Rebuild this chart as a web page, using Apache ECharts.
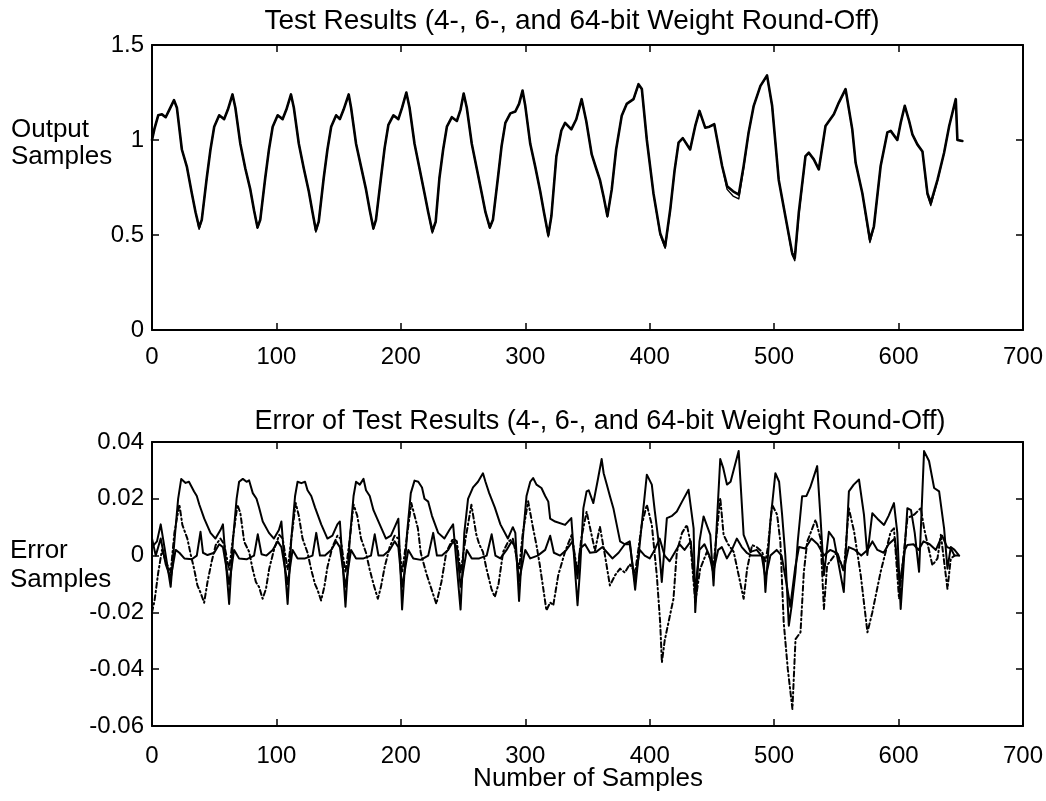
<!DOCTYPE html>
<html>
<head>
<meta charset="utf-8">
<script src="https://cdn.jsdelivr.net/npm/echarts@6/dist/echarts.min.js"></script>
<style>
  html, body { margin: 0; padding: 0; background: #fff; }
  #chart { width: 1046px; height: 801px; }
</style>
</head>
<body>
<div id="chart"></div>
<script>
// output samples, [sample, value]
var out64 = [[0,1.00],[2,1.06],[5,1.13],[8,1.135],[11,1.12],[14,1.16],[17.7,1.21],[20,1.17],[24,0.95],[28,0.86],[32,0.72],[35,0.62],[37.9,0.54],
  [40,0.58],[44,0.80],[47,0.95],[50,1.07],[54,1.13],[58,1.11],[61,1.16],[64.7,1.24],[67,1.17],[71,0.98],[75,0.85],[79,0.74],[82,0.63],[84.8,0.54],
  [87,0.58],[91,0.80],[94,0.95],[97,1.07],[101,1.13],[105,1.11],[108,1.16],[111.7,1.24],[114,1.17],[118,0.98],[122,0.85],[126,0.73],[129,0.62],[131.7,0.525],
  [134,0.57],[138,0.80],[141,0.95],[144,1.07],[148,1.13],[151,1.11],[154,1.16],[158.1,1.24],[160,1.17],[164,0.98],[168,0.86],[172,0.74],[175,0.63],[177.9,0.535],
  [180,0.58],[184,0.80],[187,0.96],[190,1.08],[194,1.13],[198,1.11],[201,1.17],[204.4,1.25],[207,1.17],[211,0.98],[215,0.85],[219,0.72],[222,0.62],[225.3,0.52],
  [228,0.57],[231,0.80],[234,0.95],[237,1.07],[241,1.12],[245,1.10],[248,1.16],[250.5,1.245],[253,1.17],[257,0.98],[261,0.85],[265,0.72],[268,0.62],[271.5,0.54],
  [274,0.58],[278,0.80],[281,0.97],[284,1.09],[288,1.14],[292,1.15],[295,1.19],[297.8,1.26],[300,1.18],[304,0.98],[308,0.86],[312,0.73],[315,0.62],[318.5,0.50],
  [321,0.60],[325,0.915],[329,1.05],[332,1.09],[337,1.056],[341,1.109],[345.3,1.215],[349,1.10],[353.4,0.924],[357,0.85],[360,0.79],[363,0.70],[366,0.60],
  [369.5,0.74],[373,0.95],[377.5,1.127],[381.5,1.19],[387,1.215],[391,1.294],[393.7,1.268],[397.7,1.00],[403,0.72],[408.4,0.51],[412.4,0.44],
  [416.5,0.634],[420,0.84],[423.2,0.986],[426.6,1.01],[432.5,0.95],[436.6,1.074],[440,1.153],[444.6,1.065],[448,1.07],[451.9,1.083],[458.2,0.863],[462.2,0.757],
  [467,0.73],[471.6,0.713],[475.5,0.863],[479.5,1.04],[483.6,1.18],[489,1.285],[494.3,1.34],[498.4,1.18],[503.7,0.79],[509,0.60],[514.5,0.405],[516.6,0.38],
  [519.8,0.617],[525.2,0.915],[527.9,0.933],[531.9,0.898],[535.9,0.845],[541.3,1.074],[548,1.136],[552,1.197],[557.4,1.268],[562.8,1.056],[565.5,0.88],[570.9,0.72],[577,0.475],
  [580.2,0.546],[585.6,0.863],[591,1.04],[593.7,1.048],[599,1.0],[601.7,1.09],[605,1.18],[608.5,1.1],[611.1,1.03],[615.1,0.977],[619.2,0.94],[623.2,0.72],[625.9,0.669],
  [631.3,0.79],[636.6,0.933],[640.7,1.074],[646,1.215],[647.3,1.0],[651.3,0.995]];

var out4 = [[0,1.00],[2,1.06],[5,1.13],[8,1.135],[11,1.12],[14,1.16],[17.7,1.21],[20,1.17],[24,0.95],[28,0.86],[32,0.72],[35,0.62],[37.9,0.53],
  [40,0.58],[44,0.80],[47,0.95],[50,1.07],[54,1.13],[58,1.11],[61,1.16],[64.7,1.24],[67,1.17],[71,0.98],[75,0.85],[79,0.74],[82,0.63],[84.8,0.535],
  [87,0.58],[91,0.80],[94,0.95],[97,1.07],[101,1.13],[105,1.11],[108,1.16],[111.7,1.24],[114,1.17],[118,0.98],[122,0.85],[126,0.73],[129,0.62],[131.7,0.515],
  [134,0.57],[138,0.80],[141,0.95],[144,1.07],[148,1.13],[151,1.11],[154,1.16],[158.1,1.24],[160,1.17],[164,0.98],[168,0.86],[172,0.74],[175,0.63],[177.9,0.53],
  [180,0.58],[184,0.80],[187,0.96],[190,1.08],[194,1.13],[198,1.11],[201,1.17],[204.4,1.25],[207,1.17],[211,0.98],[215,0.85],[219,0.72],[222,0.62],[225.3,0.51],
  [228,0.57],[231,0.80],[234,0.95],[237,1.07],[241,1.12],[245,1.10],[248,1.16],[250.5,1.245],[253,1.17],[257,0.98],[261,0.85],[265,0.72],[268,0.62],[271.5,0.535],
  [274,0.58],[278,0.80],[281,0.97],[284,1.09],[288,1.14],[292,1.15],[295,1.19],[297.8,1.26],[300,1.18],[304,0.98],[308,0.86],[312,0.73],[315,0.62],[318.5,0.49],
  [321,0.60],[325,0.915],[329,1.05],[332,1.09],[337,1.056],[341,1.109],[345.3,1.215],[349,1.10],[353.4,0.924],[357,0.85],[360,0.79],[363,0.70],[366,0.595],
  [369.5,0.74],[373,0.95],[377.5,1.127],[381.5,1.19],[387,1.215],[391,1.29],[393.7,1.265],[397.7,1.00],[403,0.72],[408.4,0.50],[412.4,0.43],
  [416.5,0.63],[420,0.84],[423.2,0.986],[426.6,1.01],[432.5,0.95],[436.6,1.074],[440,1.153],[444.6,1.065],[448,1.07],[451.9,1.083],[458.2,0.863],[462.2,0.74],
  [467,0.705],[471.6,0.69],[475.5,0.85],[479.5,1.04],[483.6,1.18],[489,1.285],[494.3,1.335],[498.4,1.18],[503.7,0.79],[509,0.60],[514.5,0.395],[516.6,0.365],
  [519.8,0.60],[525.2,0.915],[527.9,0.933],[531.9,0.898],[535.9,0.845],[541.3,1.074],[548,1.136],[552,1.197],[557.4,1.268],[562.8,1.056],[565.5,0.88],[570.9,0.72],[577,0.46],
  [580.2,0.54],[585.6,0.863],[591,1.04],[593.7,1.048],[599,1.0],[601.7,1.09],[605,1.18],[608.5,1.1],[611.1,1.03],[615.1,0.977],[619.2,0.94],[623.2,0.71],[625.9,0.655],
  [631.3,0.785],[636.6,0.933],[640.7,1.074],[646,1.215],[647.3,1.0],[651.3,0.995]];

// errors, lower plot: large solid, dash-dot, small solid
var errSolid = [[0,0.003],[4,0.005],[7,0.011],[10,0.003],[15,-0.011],[18,0.005],[21,0.020],[23.5,0.027],[27,0.0256],[29.7,0.026],[33.8,0.0226],[36,0.021],[38,0.018],
  [42,0.013],[47,0.008],[51,0.006],[55,0.009],[57,0.011],[62,-0.017],[65,0.005],[68,0.020],[70,0.026],[73,0.027],[76,0.026],[78,0.0265],[81,0.022],[84,0.020],[86,0.017],
  [89,0.012],[94,0.008],[98,0.006],[102,0.009],[104,0.012],[109,-0.017],[112,0.006],[115,0.021],[117,0.026],[120,0.0255],[123,0.026],[125,0.023],[128,0.021],[131,0.017],
  [136,0.011],[141,0.006],[145,0.007],[149,0.011],[151,0.012],[155.5,-0.018],[159,0.006],[162,0.021],[164,0.026],[167,0.025],[170,0.027],[172,0.023],[175,0.021],[178,0.016],
  [183,0.011],[188,0.006],[192,0.007],[196,0.011],[198,0.013],[201,-0.019],[205,0.008],[208,0.022],[211,0.0264],[214,0.026],[217,0.024],[219,0.020],[222,0.019],[225,0.014],
  [230,0.008],[235,0.006],[239,0.009],[242,0.011],[248,-0.019],[251,0.008],[254,0.020],[258,0.024],[262,0.026],[266,0.029],[268,0.026],[271,0.022],[275.5,0.017],
  [280,0.011],[286,0.006],[290,0.010],[292,0.008],[295,-0.016],[298,0.006],[301,0.021],[304,0.026],[306.3,0.0273],[309,0.025],[313,0.0238],[316,0.021],[318.5,0.019],
  [320,0.013],[324,0.012],[332,0.0108],[337,0.0132],[342,-0.0175],[344,-0.005],[346.7,0.0167],[349.3,0.0226],[351,0.023],[354.7,0.0185],[358,0.026],[361.4,0.034],
  [363,0.029],[365.5,0.025],[368,0.021],[370.8,0.0167],[376.2,0.005],[380,0.004],[384,0.005],[388.3,-0.012],[393.6,0.011],[397.7,0.0285],[401.7,0.025],[404,0.016],
  [407.1,0.005],[409.7,-0.0093],[413.8,0.0132],[418,0.014],[421.8,0.0155],[426,0.019],[431.2,0.0232],[435.3,0.0096],[436.6,-0.0199],[440,0.005],[443.3,0.0138],
  [448.7,0.0073],[451.3,-0.0105],[456.7,0.034],[459,0.031],[462.1,0.025],[465,0.026],[468,0.031],[471.5,0.0368],[475.5,0.0073],[480.9,0.0013],[486,0.002],[491.6,-0.001],
  [493,-0.0128],[497,0.012],[501,0.029],[502.4,0.0297],[504,0.026],[506.4,0.0144],[509,0.0],[511.8,-0.0247],[514,-0.018],[517.2,-0.0057],[519,0.005],[522.5,0.0209],
  [526,0.021],[529,0.024],[532,0.028],[534.6,0.0315],[537.3,0.0132],[540,-0.0069],[544,0.0084],[548,0.006],[552,-0.0034],[556,-0.0128],[560.1,0.0226],[564,0.025],
  [568.2,0.0268],[572.2,0.0144],[574.9,0.0002],[578.9,0.0149],[583,0.013],[588.3,0.0108],[592,0.014],[596.3,0.0185],[599,0.008],[601.7,-0.0188],[607.1,0.0167],
  [610,0.016],[613,0.008],[616.5,-0.0057],[620.5,0.0368],[624.5,0.0333],[628.6,0.0238],[632.6,0.0226],[636.6,0.0096],[639.3,-0.0046],[642,0.003],[645,0.002],[648.7,0.0]];

var errDashDot = [[0,-0.020],[2,-0.016],[5,-0.006],[8,0.002],[11,-0.002],[15,-0.006],[18,0.008],[22,0.018],[24.4,0.0108],[28.4,0.006],[31.2,0.0002],[33.8,-0.0046],
  [36.5,-0.0105],[39,-0.013],[41.9,-0.0166],[44.6,-0.0093],[48,-0.002],[51.2,0.0037],[55,0.006],[58,0.004],[62,-0.005],[65,0.006],[68.7,0.0179],[71,0.015],[74.1,0.0049],
  [78.1,0.0013],[80.8,-0.0046],[83.5,-0.0093],[86,-0.011],[88.9,-0.0152],[91.6,-0.0117],[94.2,-0.0046],[98.3,0.0025],[102.3,0.0073],[105,0.006],[109,-0.005],[112,0.006],
  [115.5,0.0185],[118,0.014],[121,0.006],[125,0.001],[128,-0.005],[131,-0.010],[133,-0.012],[135.9,-0.0158],[138.5,-0.011],[141,-0.004],[145,0.003],[149,0.007],
  [151.5,0.006],[155.5,-0.006],[159,0.006],[162,0.018],[165,0.014],[168,0.006],[172,0.001],[175,-0.005],[178,-0.010],[181.5,-0.0152],[184,-0.011],[187,-0.004],[191,0.003],
  [195,0.007],[198,0.006],[201,-0.006],[205,0.007],[208.4,0.0185],[213.7,0.0096],[216,0.001],[220.5,-0.0063],[224,-0.011],[228.5,-0.017],[232.6,-0.0093],[236.6,0.0013],
  [241.9,0.006],[245,0.005],[248,-0.006],[252,0.006],[256.7,0.0179],[260.7,0.0073],[263,0.004],[266,0.0013],[268.8,-0.0046],[272.8,-0.0117],[275.5,-0.0146],[278.5,-0.010],
  [282.2,0.0013],[286.2,0.0049],[290,0.006],[295,-0.005],[298,0.008],[302.3,0.0191],[306.3,0.0096],[309,0.0037],[311.7,-0.0034],[314.5,-0.0117],[317,-0.0193],[320,-0.0165],
  [322.5,-0.0175],[326.5,-0.0069],[331.9,0.0013],[337.3,0.0073],[342,-0.006],[345,0.006],[349.3,0.0155],[356,0.0017],[360,0.0102],[364,0.0002],[368,-0.0105],[372.2,-0.0069],
  [376.2,-0.0046],[380,-0.006],[384,-0.003],[388.3,-0.006],[393.6,0.0108],[397.7,0.0179],[401.7,0.0108],[405.7,-0.0069],[408.4,-0.0235],[409.8,-0.0376],[412,-0.030],
  [415.1,-0.0235],[419.1,-0.0152],[421.8,0.0013],[426,0.008],[429.9,0.0108],[432.6,0.0049],[436.6,-0.0164],[440.6,-0.0046],[446,0.0013],[451.3,-0.0034],[456.7,0.0203],
  [459.4,0.0073],[463,0.004],[467.5,0.0013],[471.5,-0.0069],[475.5,-0.0152],[478.3,-0.0046],[482.3,0.0037],[486,0.003],[490.3,0.0013],[493,-0.002],[495,0.003],[498.4,0.0179],
  [502.4,0.0144],[505,0.0049],[507.7,-0.0235],[511,-0.040],[514.7,-0.054],[517.2,-0.0294],[521.2,-0.027],[523.9,-0.0057],[526.6,0.0049],[533.3,0.0126],[537.3,0.006],
  [540,-0.0188],[542.6,-0.0034],[550.6,0.0013],[556,-0.0057],[560,0.0167],[564.3,0.0084],[569.6,-0.0069],[575,-0.027],[578.9,-0.02],[585.6,-0.0057],[593.7,0.0084],
  [596.3,0.0096],[600.4,-0.0152],[607.1,0.0132],[612.5,0.0144],[617.9,0.0167],[620.5,0.0096],[627.2,-0.0034],[631.3,-0.001],[634,0.0073],[639.3,-0.0117],[642,-0.001],[645,0.0]];

var errSmall = [[0,0.006],[3,0.0],[7,0.006],[11,-0.003],[15,-0.008],[19,0.002],[22,0.001],[26,-0.001],[32,-0.0013],[36,0.0],[39,0.0084],[41,0.001],[44.6,0.0002],
  [50,0.001],[54,0.004],[57,0.003],[62,-0.010],[66,0.002],[70,-0.001],[76,-0.0013],[82,0.0],[85,0.0075],[88,0.0005],[92,0.0],[97,0.002],[101,0.005],[104,0.003],
  [109,-0.010],[113,0.002],[117,-0.001],[123,-0.001],[129,0.0],[132,0.008],[135,0.0],[139,0.0],[144,0.002],[148,0.005],[151,0.003],[155.5,-0.011],[160,0.002],
  [164,-0.001],[170,-0.001],[176,0.0],[179,0.0075],[182,0.0],[186,0.0],[191,0.002],[195,0.005],[198,0.003],[201,-0.011],[206,0.002],[210,-0.001],[216,-0.0015],
  [222,0.0],[226,0.008],[229,0.0],[233,0.0],[238,0.002],[242,0.005],[245,0.003],[248,-0.011],[253,0.002],[257,-0.001],[263,-0.001],[269,0.0],[273,0.0075],[276,0.0],
  [280,-0.001],[285,0.002],[289,0.005],[292,0.003],[295,-0.009],[300,0.002],[304,-0.001],[310,0.0],[316,0.002],[320,0.007],[323,0.001],[328,0.0],[333,0.002],[338,0.005],
  [342,-0.008],[344,0.0025],[348,0.004],[352,0.001],[357,0.0013],[362,0.003],[366,0.001],[370,-0.001],[375,0.001],[380,0.004],[384,0.004],[388,-0.009],[392,0.002],
  [396,0.0],[400,-0.001],[404,0.002],[408,0.006],[412,0.0],[416,-0.002],[420,0.001],[424,0.004],[428,0.002],[433,0.005],[436.6,-0.012],[440,0.002],[444,0.004],[448,0.0],
  [451,-0.006],[455,0.002],[458,0.003],[462,-0.001],[466,0.002],[470,0.006],[474,0.003],[478,0.001],[482,0.0],[486,0.0],[490,0.0],[493,-0.008],[497,0.0],[502,0.002],
  [506,0.0],[510,-0.01],[513,-0.018],[517,-0.004],[520,0.003],[525,0.0025],[530,0.006],[535,0.004],[540,0.0],[545,0.002],[550,0.001],[556,-0.005],[560,0.003],[565,0.002],
  [570,0.0],[575,0.002],[579,0.005],[583,0.002],[588,0.001],[592,0.004],[597,0.006],[601,-0.01],[605,0.002],[607,0.0037],[612,0.004],[616,0.002],[620,0.005],[625,0.004],
  [630,0.002],[635,0.007],[639,0.003],[642,0.0025],[645,0.0],[648,0.0]];

var FONT = 'Liberation Sans, Arial, Helvetica, sans-serif';
var chart = echarts.init(document.getElementById('chart'), null, { renderer: 'canvas' });

function xAxis(grid, pos, margin) {
  return {
    type: 'value', gridIndex: grid, position: pos, min: 0, max: 700, interval: 100,
    axisLine: { show: true, onZero: false, lineStyle: { color: '#000', width: 2 } },
    axisTick: { show: true, inside: true, length: 7, lineStyle: { color: '#000', width: 1.5 } },
    axisLabel: { show: pos === 'bottom', margin: margin, color: '#000', fontFamily: FONT, fontSize: 24 },
    splitLine: { show: false }
  };
}
function yAxis(grid, pos, min, max, step) {
  return {
    type: 'value', gridIndex: grid, position: pos, min: min, max: max, interval: step,
    axisLine: { show: true, onZero: false, lineStyle: { color: '#000', width: 2 } },
    axisTick: { show: true, inside: true, length: 7, lineStyle: { color: '#000', width: 1.5 } },
    axisLabel: { show: pos === 'left', margin: 8, color: '#000', fontFamily: FONT, fontSize: 24 },
    splitLine: { show: false }
  };
}
function line(data, xi, yi, width, type) {
  return {
    type: 'line', xAxisIndex: xi, yAxisIndex: yi, data: data, showSymbol: false, symbol: 'none',
    animation: false, silent: true,
    lineStyle: { color: '#000', width: width, type: type || 'solid', join: 'round', cap: 'round' }
  };
}

var option = {
  backgroundColor: '#fff',
  animation: false,
  title: [
    { text: 'Test Results (4-, 6-, and 64-bit Weight Round-Off)', left: 567, top: 2, textAlign: 'center',
      textStyle: { fontFamily: FONT, fontSize: 28, fontWeight: 'normal', color: '#000' } },
    { text: 'Error of Test Results (4-, 6-, and 64-bit Weight Round-Off)', left: 595, top: 403, textAlign: 'center',
      textStyle: { fontFamily: FONT, fontSize: 27, fontWeight: 'normal', color: '#000' } }
  ],
  grid: [
    { left: 152, right: 23, top: 45, height: 285, containLabel: false },
    { left: 152, right: 23, top: 442, height: 284, containLabel: false }
  ],
  xAxis: [xAxis(0, 'bottom', 15), xAxis(0, 'top', 0), xAxis(1, 'bottom', 18), xAxis(1, 'top', 0)],
  yAxis: [yAxis(0, 'left', 0, 1.5, 0.5), yAxis(0, 'right', 0, 1.5, 0.5),
          yAxis(1, 'left', -0.06, 0.04, 0.02), yAxis(1, 'right', -0.06, 0.04, 0.02)],
  graphic: [
    { type: 'text', x: 11, y: 116, style: { text: 'Output\nSamples', font: '26px ' + FONT, fill: '#000', lineHeight: 27 } },
    { type: 'text', x: 10, y: 536, style: { text: 'Error\nSamples', font: '26px ' + FONT, fill: '#000', lineHeight: 29 } },
    { type: 'text', x: 588, y: 779, style: { text: 'Number of Samples', font: '26px ' + FONT, fill: '#000',
      textAlign: 'center', textVerticalAlign: 'middle' } }
  ],
  series: [
    line(out4, 0, 0, 1.4),
    line(out64, 0, 0, 2.6),
    line(errDashDot, 2, 2, 2, [5, 3, 1.5, 3]),
    line(errSmall, 2, 2, 2),
    line(errSolid, 2, 2, 2)
  ]
};
chart.setOption(option);
</script>
</body>
</html>
